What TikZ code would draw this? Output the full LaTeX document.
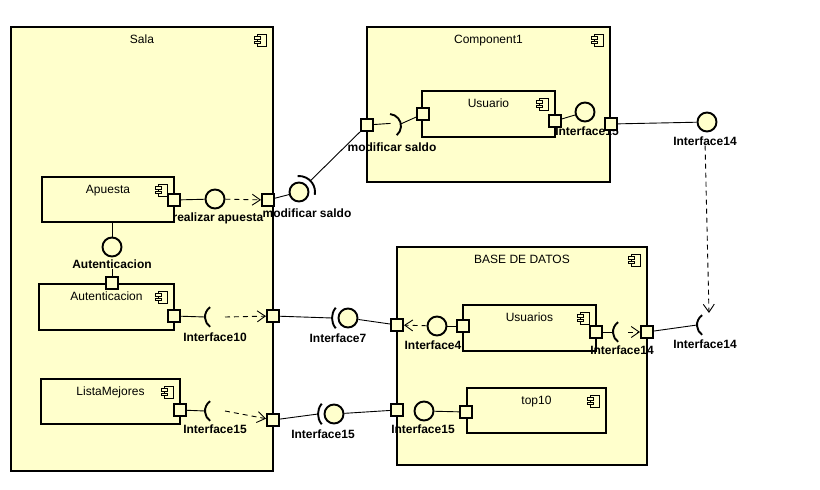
\documentclass[tikz,border=0pt]{standalone}
\usepackage{fontspec}
\setmainfont{Liberation Sans}
\usetikzlibrary{arrows.meta}
\definecolor{compfill}{RGB}{255,255,204}
\begin{document}
\begin{tikzpicture}[x=1pt, y=1pt,
	comp/.style = {draw, line width=2pt, fill=compfill, inner sep=0pt},
	title/.style = {anchor=north, yshift=-9pt, inner sep=0pt, font=\fontsize{12}{14}\selectfont},
	port/.style = {draw, line width=2pt, fill=compfill, minimum size=12pt, inner sep=0pt},
	iface/.style = {circle, draw, line width=1.9pt, fill=compfill, minimum size=19pt, inner sep=0pt},
	lbl/.style = {inner sep=0pt, font=\bfseries\fontsize{12}{14}\selectfont},
	con/.style = {line width=0.9pt},
	dep/.style = {con, dash pattern=on 5pt off 4pt, -{Straight Barb[length=8pt,width=11pt]}},
	sock/.style = {line width=1.9pt},
	cicon/.pic = {
		\draw [line width=0.8pt, fill=compfill] (-3,-6) rectangle (6,6);
		\draw [line width=0.8pt, fill=compfill] (-6,1) rectangle (0,3.5);
		\draw [line width=0.8pt, fill=compfill] (-6,-3.5) rectangle (0,-1);
	}]
	\useasboundingbox (0,0) rectangle (820,-490);
	% outer components
	\node [comp, minimum width=262pt, minimum height=444pt] (sala) at (142,-249) {};
	\node [comp, minimum width=243pt, minimum height=155pt] (comp1) at (488.5,-104.5) {};
	\node [comp, minimum width=250pt, minimum height=218pt] (bd) at (522,-356) {};
	% inner components
	\node [comp, minimum width=132pt, minimum height=45pt] (apuesta) at (108,-199.5) {};
	\node [comp, minimum width=135pt, minimum height=46pt] (autent) at (106.5,-307) {};
	\node [comp, minimum width=139pt, minimum height=45pt] (lista) at (110.5,-401.5) {};
	\node [comp, minimum width=133pt, minimum height=46pt] (usuario) at (488.5,-114) {};
	\node [comp, minimum width=133pt, minimum height=46pt] (usuarios) at (529.5,-328) {};
	\node [comp, minimum width=139pt, minimum height=45pt] (top10) at (536.5,-410.5) {};
	\node [title] (sala-t) at (sala.north) {Sala};
	\node [title] (comp1-t) at (comp1.north) {Component1};
	\node [title] (bd-t) at (bd.north) {BASE DE DATOS};
	\node [title] (apuesta-t) at (apuesta.north) {Apuesta};
	\node [title] (autent-t) at (autent.north) {Autenticacion};
	\node [title] (lista-t) at (lista.north) {ListaMejores};
	\node [title] (usuario-t) at (usuario.north) {Usuario};
	\node [title] (usuarios-t) at (usuarios.north) {Usuarios};
	\node [title] (top10-t) at (top10.north) {top10};
	\foreach \c in {sala,comp1,bd,apuesta,autent,lista,usuario,usuarios,top10}
		\pic at ([xshift=-14pt,yshift=-14pt]\c.north east) {cicon};
	% labels
	\node [lbl] (lRA) at (218,-218) {realizar apuesta};
	\node [lbl] (lMS1) at (307,-213) {modificar saldo};
	\node [lbl] (lMS2) at (392,-147) {modificar saldo};
	\node [lbl] (lAut) at (112,-264) {Autenticacion};
	\node [lbl] (lI10) at (215,-337) {Interface10};
	\node [lbl] (lI15a) at (215,-429) {Interface15};
	\node [lbl] (lI7) at (338,-338) {Interface7};
	\node [lbl] (lI15b) at (323,-434) {Interface15};
	\node [lbl] (lI4) at (433,-345) {Interface4};
	\node [lbl] (lI15c) at (423,-429) {Interface15};
	\node [lbl] (lI14a) at (622,-350) {Interface14};
	\node [lbl] (lU15) at (587,-131) {Interface15};
	\node [lbl] (lT14a) at (705,-141) {Interface14};
	\node [lbl] (lT14b) at (705,-344) {Interface14};
	% ports
	\node [port] (pAp) at (174,-200) {};
	\node [port] (pSa1) at (268,-200) {};
	\node [port] (pAuT) at (112,-283) {};
	\node [port] (pAu) at (174,-316) {};
	\node [port] (pSa2) at (273,-316) {};
	\node [port] (pLM) at (180,-410) {};
	\node [port] (pSa3) at (273,-420) {};
	\node [port] (pC1L) at (367,-125) {};
	\node [port] (pUL) at (423,-114) {};
	\node [port] (pUR) at (555,-121) {};
	\node [port] (pC1R) at (611,-124) {};
	\node [port] (pBL1) at (397,-325) {};
	\node [port] (pUsL) at (463,-326) {};
	\node [port] (pUsR) at (596,-332) {};
	\node [port] (pBR) at (647,-332) {};
	\node [port] (pBL2) at (397,-410) {};
	\node [port] (pT10) at (466,-412) {};
	% provided interfaces
	\node [iface] (iRA) at (215,-199) {};
	\node [iface] (iAut) at (112,-247) {};
	\node [iface] (iMS) at (299,-192) {};
	\node [iface] (iU15) at (585,-112) {};
	\node [iface] (iT14) at (707,-122) {};
	\node [iface] (iI4) at (437,-326) {};
	\node [iface] (iI7) at (348,-318) {};
	\node [iface] (iI15) at (334,-414) {};
	\node [iface] (iT10) at (424,-411) {};
	% required interfaces
	\coordinate (sk1) at (389,-126);
	\coordinate (sk10) at (217,-317);
	\coordinate (skLM) at (217,-411);
	\coordinate (sk14a) at (625,-332);
	\coordinate (sk14b) at (709,-325);
	\draw [sock] ([shift={(85:12)}]sk1) arc (85:-50:12);
	\draw [sock] ([shift={(95:16)}]iMS.center) arc (95:-10:16);
	\draw [sock] ([shift={(140:16)}]iI7.center) arc (140:220:16);
	\draw [sock] ([shift={(140:16)}]iI15.center) arc (140:220:16);
	\foreach \s in {sk10,skLM,sk14a,sk14b}
		\draw [sock] ([shift={(125:12)}]\s) arc (125:235:12);
	% connectors
	\draw [con] (apuesta.south -| iAut) -- (iAut);
	\draw [con] (lAut) -- (pAuT);
	\draw [con] (pAp) -- (iRA);
	\draw [dep] (iRA) -- (pSa1);
	\draw [con] (pSa1) -- (iMS);
	\draw [con, shorten >=16pt] (pC1L) -- (iMS.center);
	\draw [con] (pC1L) -- ([shift={(60:3)}]sk1);
	\draw [con] ([shift={(10:12)}]sk1) -- (pUL);
	\draw [con] (pUR) -- (iU15);
	\draw [con] (pC1R) -- (iT14);
	\draw [dep] (lT14a) -- ([shift={(90:12)}]sk14b);
	\draw [con] (pBR) -- ([shift={(180:12)}]sk14b);
	\draw [con] (pUsR) -- ([shift={(180:12)}]sk14a);
	\draw [dep] ([shift={(0:3)}]sk14a) -- (pBR);
	\draw [con] (iI4) -- (pUsL);
	\draw [dep] (iI4) -- (pBL1);
	\draw [con] (pSa2) -- ([shift={(180:16)}]iI7.center);
	\draw [con] (iI7) -- (pBL1);
	\draw [con] (pAu) -- ([shift={(180:12)}]sk10);
	\draw [dep] ([shift={(0:8)}]sk10) -- (pSa2);
	\draw [con] (pLM) -- ([shift={(180:12)}]skLM);
	\draw [dep] ([shift={(0:8)}]skLM) -- (pSa3);
	\draw [con] (pSa3) -- ([shift={(180:16)}]iI15.center);
	\draw [con] (iI15) -- (pBL2);
	\draw [con] (pT10) -- (iT10);
\end{tikzpicture}
\end{document}
